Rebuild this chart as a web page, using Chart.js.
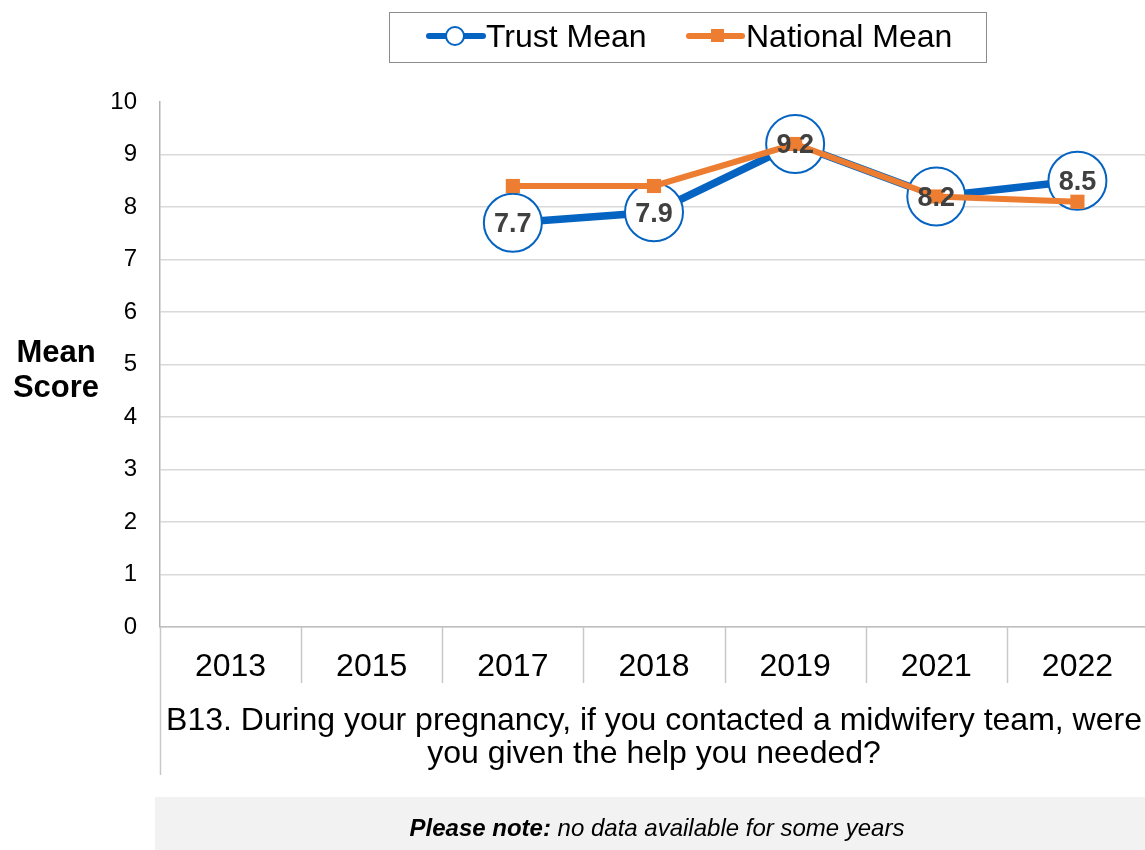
<!DOCTYPE html>
<html>
<head>
<meta charset="utf-8">
<title>B13 Mean Score</title>
<script src="https://cdn.jsdelivr.net/npm/chart.js@4.4.1/dist/chart.umd.min.js"></script>
<style>
  html, body { margin: 0; padding: 0; background: #fff; overflow: hidden; }
  #wrap { position: relative; width: 1145px; height: 850px; overflow: hidden; }
  canvas { display: block; }
</style>
</head>
<body>
<div id="wrap">
  <canvas id="chart" width="1150" height="850"></canvas>
</div>

<script>
// data
const years = ['2013', '2015', '2017', '2018', '2019', '2021', '2022'];
const trustMean = [null, null, 7.7, 7.9, 9.2, 8.2, 8.5];
const nationalMean = [null, null, 8.4, 8.4, 9.2, 8.2, 8.1];
const yTicks = [0, 1, 2, 3, 4, 5, 6, 7, 8, 9, 10];
const xTitle = ['B13. During your pregnancy, if you contacted a midwifery team, were',
                'you given the help you needed?'];
const yTitle = ['Mean', 'Score'];
const seriesNames = ['Trust Mean', 'National Mean'];

const BLUE = '#0563c1';
const ORANGE = '#ed7d31';
const FONT = "'Liberation Sans', Arial, sans-serif";

// labels on the trust points, grid separators, legend, side title and note
const extras = {
  id: 'extras',
  afterDatasetsDraw(chart) {
    const ctx = chart.ctx;
    const meta = chart.getDatasetMeta(0);
    ctx.save();
    ctx.font = 'bold 27px ' + FONT;
    ctx.fillStyle = '#404040';
    ctx.textAlign = 'center';
    ctx.textBaseline = 'middle';
    meta.data.forEach(function (pt, i) {
      if (trustMean[i] == null) return;
      ctx.fillText(trustMean[i].toFixed(1), pt.x, pt.y + 2);
    });
    ctx.restore();
  },
  afterDraw(chart) {
    const ctx = chart.ctx;
    const area = chart.chartArea;
    const n = years.length;
    const step = (area.right - area.left) / n;

    // category separators under the axis
    ctx.save();
    ctx.strokeStyle = '#c8c8c8';
    ctx.lineWidth = 1.5;
    for (let i = 0; i <= n; i++) {
      const x = Math.round(area.left + i * step) + 0.5;
      ctx.beginPath();
      ctx.moveTo(x, area.bottom);
      ctx.lineTo(x, area.bottom + (i === 0 ? 148 : 56));
      ctx.stroke();
    }
    ctx.restore();

    // y title
    ctx.save();
    ctx.font = 'bold 31px ' + FONT;
    ctx.fillStyle = '#000';
    ctx.textAlign = 'center';
    ctx.textBaseline = 'middle';
    ctx.fillText(yTitle[0], 56, 353);
    ctx.fillText(yTitle[1], 56, 388);
    ctx.restore();

    // legend
    ctx.save();
    ctx.strokeStyle = '#8c8c8c';
    ctx.lineWidth = 1;
    ctx.strokeRect(389.5, 12.5, 597, 50);
    ctx.lineCap = 'round';
    ctx.lineWidth = 6;
    ctx.strokeStyle = BLUE;
    ctx.beginPath(); ctx.moveTo(429, 36); ctx.lineTo(483, 36); ctx.stroke();
    ctx.fillStyle = '#fff';
    ctx.lineWidth = 2;
    ctx.beginPath(); ctx.arc(455, 36, 9, 0, Math.PI * 2); ctx.fill(); ctx.stroke();
    ctx.lineWidth = 6;
    ctx.strokeStyle = ORANGE;
    ctx.beginPath(); ctx.moveTo(689, 36); ctx.lineTo(742, 36); ctx.stroke();
    ctx.fillStyle = ORANGE;
    ctx.fillRect(711, 29, 13, 13);
    ctx.font = '32px ' + FONT;
    ctx.fillStyle = '#000';
    ctx.textAlign = 'left';
    ctx.textBaseline = 'middle';
    ctx.fillText(seriesNames[0], 486, 38);
    ctx.fillText(seriesNames[1], 746, 38);
    ctx.restore();

    // note box
    ctx.save();
    ctx.fillStyle = '#f2f2f2';
    ctx.fillRect(155, 797, 1000, 60);
    ctx.fillStyle = '#000';
    ctx.textBaseline = 'middle';
    const bold = 'Please note:';
    const rest = ' no data available for some years';
    ctx.font = 'italic bold 24px ' + FONT;
    const w1 = ctx.measureText(bold).width;
    ctx.font = 'italic 24px ' + FONT;
    const w2 = ctx.measureText(rest).width;
    const x0 = 657 - (w1 + w2) / 2;
    ctx.font = 'italic bold 24px ' + FONT;
    ctx.textAlign = 'left';
    ctx.fillText(bold, x0, 829);
    ctx.font = 'italic 24px ' + FONT;
    ctx.fillText(rest, x0 + w1, 829);
    ctx.restore();
  }
};

const chart = new Chart(document.getElementById('chart'), {
  type: 'line',
  data: {
    labels: years,
    datasets: [{
      label: seriesNames[0],
      data: trustMean,
      order: 1,
      borderColor: BLUE,
      borderWidth: 7.5,
      pointRadius: 29,
      pointHoverRadius: 29,
      pointBackgroundColor: '#fff',
      pointBorderColor: BLUE,
      pointBorderWidth: 2,
      tension: 0,
      spanGaps: false
    }, {
      label: seriesNames[1],
      data: nationalMean,
      order: 0,
      borderColor: ORANGE,
      borderWidth: 6,
      pointStyle: 'rect',
      pointRadius: 10,
      pointHoverRadius: 10,
      pointBackgroundColor: ORANGE,
      pointBorderColor: ORANGE,
      pointBorderWidth: 0,
      tension: 0
    }]
  },
  options: {
    responsive: false,
    animation: false,
    devicePixelRatio: 1,
    layout: { autoPadding: false, padding: { top: 102, right: 2, bottom: 0, left: 0 } },
    plugins: {
      legend: { display: false },
      tooltip: { enabled: false }
    },
    scales: {
      x: {
        offset: true,
        grid: { display: false, drawTicks: false },
        border: { display: true, color: '#bfbfbf', width: 1.5 },
        ticks: {
          color: '#000',
          font: { family: FONT, size: 32 },
          padding: 21,
          maxRotation: 0,
          autoSkip: false
        },
        title: {
          display: true,
          text: xTitle,
          color: '#000',
          font: { family: FONT, size: 32, lineHeight: 1.02 },
          padding: { top: 0, bottom: 80 }
        },
        afterFit(scale) {
          scale.height = 223;
          scale.paddingLeft = 0;
          scale.paddingRight = 0;
        }
      },
      y: {
        min: 0,
        max: 10,
        afterBuildTicks(scale) { scale.ticks = yTicks.map(v => ({ value: v })); },
        grid: {
          drawTicks: false,
          color: ctx => (ctx.tick && ctx.tick.value === 10 ? 'rgba(0,0,0,0)' : '#d9d9d9'),
          lineWidth: 1.5
        },
        border: { display: true, color: '#b3b3b3', width: 1.5 },
        ticks: {
          color: '#000',
          font: { family: FONT, size: 24 },
          padding: 23
        },
        afterFit(scale) { scale.width = 160; }
      }
    }
  },
  plugins: [extras]
});
</script>
</body>
</html>
